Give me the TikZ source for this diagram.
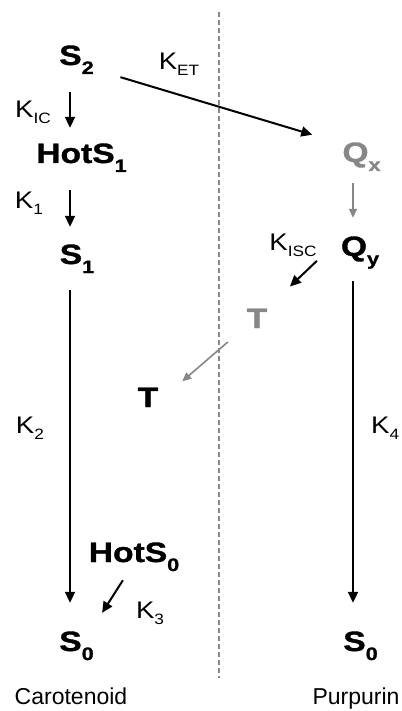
\documentclass[tikz,border=0pt]{standalone}
\usepackage{fontspec}
\setmainfont{Liberation Sans}
\newfontfamily\statefont[FakeStretch=1.2, BoldFeatures={FakeBold=1.2}]{Liberation Sans}
\newfontfamily\ratefont[FakeStretch=1.15]{Liberation Sans}
\usetikzlibrary{arrows.meta, calc}
\definecolor{dimgray}{RGB}{135,135,135}
\newcommand{\lvsub}[2]{#1\raisebox{-9pt}{\fontsize{18}{18}\selectfont #2}}
\newcommand{\krate}[1]{K\raisebox{-6pt}{\fontsize{15}{15}\selectfont #1}}
\tikzset{
  lvl/.style={inner sep=0pt, anchor=base, text height=20.5pt, text depth=8pt,
    font=\statefont\bfseries\fontsize{28}{28}\selectfont},
  rate/.style={inner sep=0pt, anchor=base, font=\ratefont\fontsize{24}{24}\selectfont},
  tag/.style={inner sep=0pt, anchor=base, font=\fontsize{23}{23}\selectfont},
  arrow/.style={-{Triangle[length=11pt,width=10pt]}, line width=2pt},
  garrow/.style={-{Triangle[length=9pt,width=8pt]}, line width=1.6pt, dimgray},
  divider/.style={dimgray, line width=1.2pt, dash pattern=on 5pt off 3pt}
}
\begin{document}
\begin{tikzpicture}[x=1pt, y=1pt]
  \useasboundingbox (0,0) rectangle (401,-711);
  % columns
  \coordinate (colL) at (70,0);
  \coordinate (colR) at (353,0);
  % carotenoid levels
  \node[lvl] (s2) at (76.5,-65) {\lvsub{S}{2}};
  \node[lvl] (hs1) at (81.5,-163) {\lvsub{HotS}{1}};
  \node[lvl] (s1) at (77,-264) {\lvsub{S}{1}};
  \node[lvl] (tc) at (148,-407) {T};
  \node[lvl] (hs0) at (134,-562) {\lvsub{HotS}{0}};
  \node[lvl] (s0c) at (76.5,-651) {\lvsub{S}{0}};
  % purpurin levels
  \node[lvl, dimgray] (qx) at (361.5,-162) {\lvsub{Q}{x}};
  \node[lvl] (qy) at (360,-256) {\lvsub{Q}{y}};
  \node[lvl, dimgray] (tp) at (257,-328) {T};
  \node[lvl] (s0p) at (360.5,-651) {\lvsub{S}{0}};
  % rates
  \node[rate] (ket) at (179,-70) {\krate{ET}};
  \node[rate] (kic) at (33,-118) {\krate{IC}};
  \node[rate] (k1) at (29,-208) {\krate{1}};
  \node[rate] (kisc) at (293,-250) {\krate{ISC}};
  \node[rate] (k2) at (30,-433) {\krate{2}};
  \node[rate, anchor=base west] (k4) at (371,-433) {\krate{4}};
  \node[rate] (k3) at (150,-618) {\krate{3}};
  \node[tag] (carot) at (71,-704) {Carotenoid};
  \node[tag] (purp) at (356,-704) {Purpurin};
  % divider
  \draw[divider] (219,-12) -- (219,-678);
  % transitions
  \draw[arrow, shorten <=19pt, shorten >=14.5pt] (colL |- s2.south) -- (colL |- hs1.north);
  \draw[arrow, shorten <=19pt, shorten >=16.5pt] (colL |- hs1.south) -- (colL |- s1.north);
  \draw[arrow, shorten <=18pt, shorten >=27.5pt] (colL |- s1.south) -- (colL |- s0c.north);
  \draw[arrow, shorten <=11.9pt, shorten >=20.7pt] (hs0.252) -- (s0c.45);
  \draw[arrow, shorten <=27.7pt, shorten >=31.3pt] (s2.-31) -- (qx.148);
  \draw[garrow, shorten <=13pt, shorten >=17.5pt] (colR |- qx.south) -- (colR |- qy.north);
  \draw[arrow, shorten <=17pt, shorten >=27.5pt] (colR |- qy.south) -- (colR |- s0p.north);
  \draw[arrow, shorten <=32.8pt, shorten >=31pt] (qy.149) -- (tp.53);
  \draw[garrow, shorten <=24.8pt, shorten >=31.4pt] (tp.201) -- (tc.-6);
\end{tikzpicture}
\end{document}
